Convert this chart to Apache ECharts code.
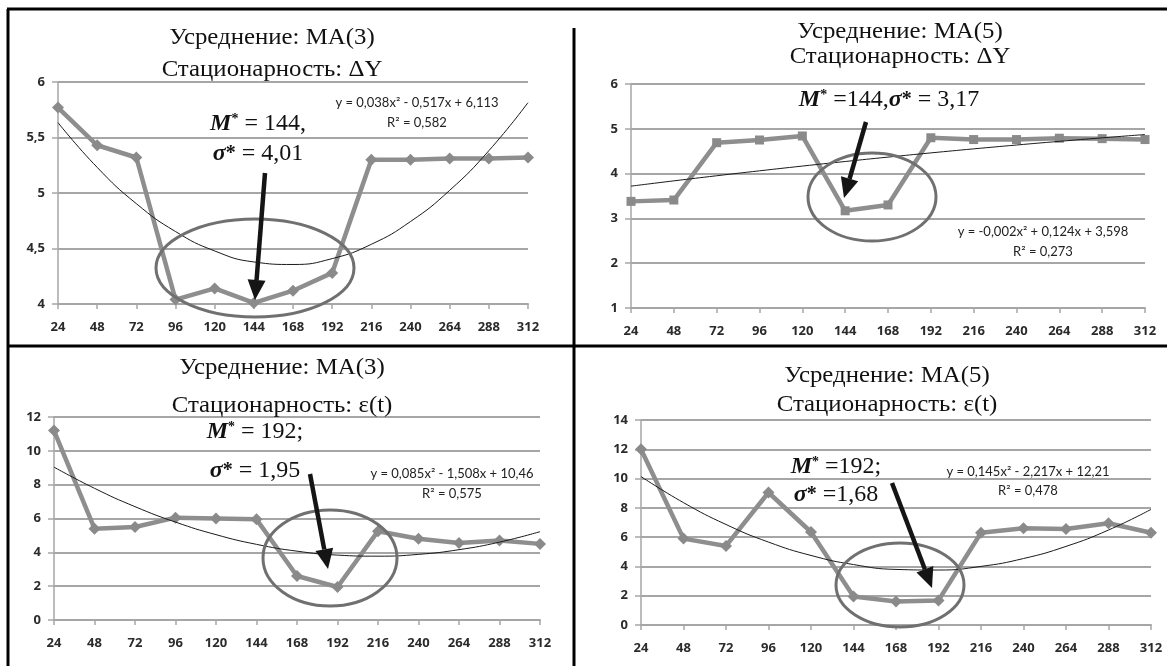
<!DOCTYPE html>
<html><head><meta charset="utf-8">
<script src="https://cdn.jsdelivr.net/npm/echarts/dist/echarts.min.js"></script>
<style>html,body{margin:0;padding:0;background:#fff}#c{width:1167px;height:666px}</style>
</head><body><div id="c"></div><script>
// ---- data ----
const categories = ['24','48','72','96','120','144','168','192','216','240','264','288','312'];
const ma3dY      = [5.77,5.43,5.32,4.04,4.14,4.01,4.12,4.28,5.30,5.30,5.31,5.31,5.32];
const ma3dYTrend = [5.634,5.231,4.904,4.653,4.478,4.379,4.356,4.409,4.538,4.743,5.024,5.381,5.814];
const ma5dY      = [3.38,3.41,4.69,4.75,4.84,3.17,3.30,4.80,4.76,4.76,4.79,4.78,4.76];
const ma5dYTrend = [3.720,3.838,3.952,4.062,4.168,4.270,4.368,4.462,4.552,4.638,4.720,4.798,4.872];
const ma3Eps      = [11.2,5.4,5.5,6.05,6.0,5.95,2.6,1.95,5.25,4.8,4.55,4.7,4.5];
const ma3EpsTrend = [9.037,7.784,6.701,5.788,5.045,4.472,4.069,3.836,3.773,3.880,4.157,4.604,5.221];
const ma5Eps      = [12.0,5.9,5.4,9.05,6.35,1.94,1.6,1.68,6.3,6.6,6.55,6.95,6.3];
const ma5EpsTrend = [10.138,8.356,6.864,5.662,4.750,4.128,3.796,3.754,4.002,4.540,5.368,6.486,7.894];
const yTicks1 = [4, 4.5, 5, 5.5, 6];
const yTicks2 = [1, 2, 3, 4, 5, 6];
const yTicks3 = [0, 2, 4, 6, 8, 10, 12];
const yTicks4 = [0, 2, 4, 6, 8, 10, 12, 14];
const titles = [
  ['Усреднение: MA(3)', 'Стационарность: ΔY'],
  ['Усреднение: MA(5)', 'Стационарность: ΔY'],
  ['Усреднение: MA(3)', 'Стационарность: ε(t)'],
  ['Усреднение: MA(5)', 'Стационарность: ε(t)']
];
const equations = [
  ['y = 0,038x² - 0,517x + 6,113', 'R² = 0,582'],
  ['y = -0,002x² + 0,124x + 3,598', 'R² = 0,273'],
  ['y = 0,085x² - 1,508x + 10,46', 'R² = 0,575'],
  ['y = 0,145x² - 2,217x + 12,21', 'R² = 0,478']
];
const notes = [
  ['144,', '4,01'],
  ['144,', '3,17'],
  ['192;', '1,95'],
  ['192;', '1,68']
];

// ---- layout ----
const panels = [
  {grid:{left:58, top:82, width:470, height:222}, ticks:yTicks1, data:ma3dY, trend:ma3dYTrend, symbol:'diamond', size:12,
   title:{x:272, y1:38, y2:70}, eq:{x:417, y1:103, y2:123},
   ell:{cx:255, cy:268, rx:99, ry:49}, arrow:[265,173,255,300],
   note:{x:258, y1:124, y2:154, oneLine:false, eqSpace:' = '}},
  {grid:{left:631, top:84, width:514, height:224}, ticks:yTicks2, data:ma5dY, trend:ma5dYTrend, symbol:'rect', size:9,
   title:{x:900, y1:32, y2:57}, eq:{x:1043, y1:232, y2:252},
   ell:{cx:872, cy:197, rx:64, ry:44}, arrow:[866,122,844,198],
   note:{x:889, y1:100, oneLine:true, eqSpace:' ='}},
  {grid:{left:54, top:417, width:486, height:203}, ticks:yTicks3, data:ma3Eps, trend:ma3EpsTrend, symbol:'diamond', size:12,
   title:{x:282, y1:368, y2:406}, eq:{x:452, y1:474, y2:494},
   ell:{cx:330, cy:558, rx:67, ry:48}, arrow:[310,474,328,569],
   note:{x:255, y1:432, y2:471, oneLine:false, eqSpace:' = '}},
  {grid:{left:641, top:420, width:510, height:205}, ticks:yTicks4, data:ma5Eps, trend:ma5EpsTrend, symbol:'diamond', size:12,
   title:{x:887, y1:376, y2:405}, eq:{x:1028, y1:472, y2:491},
   ell:{cx:900, cy:585, rx:64, ry:42}, arrow:[892,483,932,588],
   note:{x:836, y1:467, y2:495, oneLine:false, eqSpace:' ='}}
];

const GRID = '#a6a6a6';
const LABEL_FONT = 'Open Sans';
const grids = [], xAxes = [], yAxes = [], series = [], graphics = [];

panels.forEach((p, i) => {
  grids.push(Object.assign({containLabel:false}, p.grid));
  xAxes.push({
    type:'category', gridIndex:i, data:categories, boundaryGap:false,
    axisLine:{lineStyle:{color:GRID, width:2}},
    axisTick:{show:true, length:5, lineStyle:{color:GRID, width:1.5}},
    axisLabel:{margin:17, color:'#2b2b2b', fontFamily:LABEL_FONT, fontWeight:'bold', fontSize:13},
    splitLine:{show:false}
  });
  const t = p.ticks;
  yAxes.push({
    type:'value', gridIndex:i, min:t[0], max:t[t.length-1], interval:t[1]-t[0],
    axisLine:{show:true, lineStyle:{color:GRID, width:1.5}},
    axisTick:{show:true, length:6, lineStyle:{color:GRID, width:1.5}},
    axisLabel:{margin:13, color:'#2b2b2b', fontFamily:LABEL_FONT, fontWeight:'bold', fontSize:13,
      formatter:v => String(v).replace('.', ',')},
    splitLine:{show:true, lineStyle:{color:GRID, width:2}}
  });
  series.push({
    type:'line', xAxisIndex:i, yAxisIndex:i, data:p.data, symbol:p.symbol, symbolSize:p.size,
    lineStyle:{color:'#8e8e8e', width:4.5}, itemStyle:{color:'#8a8a8a'}, z:3, animation:false
  });
  series.push({
    type:'line', xAxisIndex:i, yAxisIndex:i, data:p.trend, symbol:'none', smooth:true,
    lineStyle:{color:'#1a1a1a', width:1}, z:4, animation:false
  });

  // titles (two lines)
  [p.title.y1, p.title.y2].forEach((ty, k) => {
    graphics.push({type:'text', x:p.title.x, y:ty, z:10, scaleX:1.08,
      style:{text:titles[i][k], font:'23px "Liberation Serif"', fill:'#111', align:'center', verticalAlign:'middle'}});
  });
  // equations
  graphics.push({type:'text', x:p.eq.x, y:p.eq.y1, z:10,
    style:{text:equations[i][0], font:'13px Lato', fill:'#222', align:'center', verticalAlign:'middle'}});
  graphics.push({type:'text', x:p.eq.x, y:p.eq.y2, z:10,
    style:{text:equations[i][1], font:'13px Lato', fill:'#222', align:'center', verticalAlign:'middle'}});
  // ellipse
  graphics.push({type:'ellipse', z:11, shape:p.ell, style:{fill:'none', stroke:'#707070', lineWidth:3}});
  // arrow
  const [x1,y1,x2,y2] = p.arrow;
  const dx = x2-x1, dy = y2-y1, L = Math.hypot(dx,dy), ux = dx/L, uy = dy/L, nx = -uy, ny = ux;
  const HL = 20, HW = 9;
  const bx = x2-ux*HL, by = y2-uy*HL;
  graphics.push({type:'line', z:12, shape:{x1, y1, x2:bx, y2:by}, style:{stroke:'#151515', lineWidth:4.5}});
  graphics.push({type:'polygon', z:12, shape:{points:[[x2,y2],[bx+nx*HW,by+ny*HW],[bx-nx*HW,by-ny*HW]]}, style:{fill:'#151515'}});
  // notes
  const rich = {
    m:{font:'italic bold 24px "Liberation Serif"', fill:'#111'},
    s:{font:'bold 14px "Liberation Serif"', fill:'#111', verticalAlign:'top', padding:[0,0,10,0]},
    sg:{font:'italic bold 24px "Liberation Serif"', fill:'#111'},
    st:{font:'bold 20px "Liberation Serif"', fill:'#111'},
    r:{font:'24px "Liberation Serif"', fill:'#111'}
  };
  const es = p.note.eqSpace;
  if (p.note.oneLine) {
    graphics.push({type:'text', x:p.note.x, y:p.note.y1, z:13,
      style:{text:'{m|M}{s|*}{r|' + es + notes[i][0] + '}{sg|σ}{st|*}{r| = ' + notes[i][1] + '}', rich, align:'center', verticalAlign:'middle'}});
  } else {
    graphics.push({type:'text', x:p.note.x, y:p.note.y1, z:13,
      style:{text:'{m|M}{s|*}{r|' + es + notes[i][0] + '}', rich, align:'center', verticalAlign:'middle'}});
    graphics.push({type:'text', x:p.note.x, y:p.note.y2, z:13,
      style:{text:'{sg|σ}{st|*}{r|' + es + notes[i][1] + '}', rich, align:'center', verticalAlign:'middle'}});
  }
});

// frame lines
const frame = [[7,9,1167,9],[8,9,8,666],[8,346,1167,346],[574,28,574,666]];
frame.forEach(f => graphics.push({type:'line', z:20, shape:{x1:f[0],y1:f[1],x2:f[2],y2:f[3]}, style:{stroke:'#000', lineWidth:3}}));

const chart = echarts.init(document.getElementById('c'), null, {renderer:'canvas'});
chart.setOption({
  animation:false, backgroundColor:'#fff',
  grid:grids, xAxis:xAxes, yAxis:yAxes, series, graphic:graphics
});
</script></body></html>
